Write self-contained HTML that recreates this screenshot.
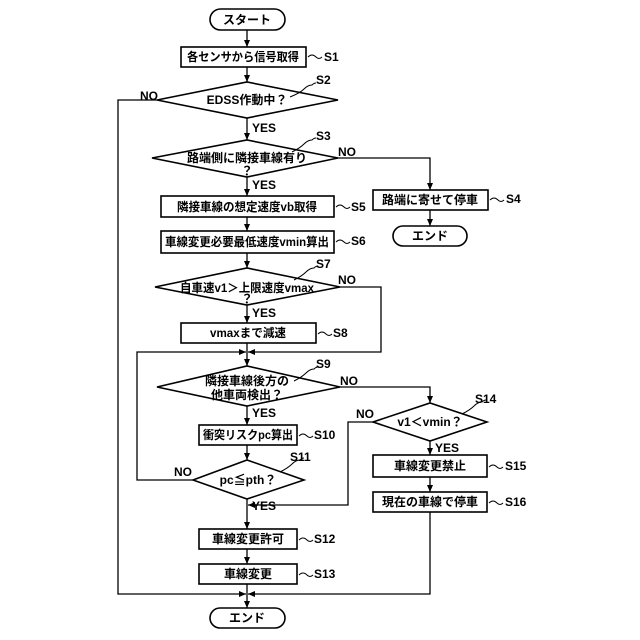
<!DOCTYPE html>
<html><head><meta charset="utf-8"><style>
html,body{margin:0;padding:0;background:#fff;}
svg{display:block}
text{font-family:"Liberation Sans","Noto Sans CJK JP",sans-serif;font-size:12px;fill:#000;font-weight:bold}
.t{text-anchor:middle;dominant-baseline:central}
.l{dominant-baseline:central}
</style></head><body>
<svg width="640" height="640" viewBox="0 0 640 640" xmlns="http://www.w3.org/2000/svg">
<defs><marker id="a" markerWidth="8" markerHeight="8" refX="7" refY="4" orient="auto" markerUnits="userSpaceOnUse"><path d="M0,1 L7,4 L0,7 Z" fill="#000"/></marker></defs>
<g fill="none" stroke="#000" stroke-width="1.6">
<rect x="210" y="9" width="75" height="21" rx="10.5"/>
<rect x="181" y="47" width="125" height="20"/>
<polygon points="157,100 247,82 338,100 247,118"/>
<polygon points="152,158 247,140 338,158 247,177"/>
<rect x="373" y="190" width="115" height="20"/>
<rect x="393" y="226" width="74" height="20" rx="10"/>
<rect x="161" y="196" width="173" height="21"/>
<rect x="161" y="231" width="173" height="22"/>
<polygon points="155,287 247,268 340,287 247,305"/>
<rect x="181" y="323" width="135" height="20"/>
<polygon points="157,387 247,366 340,387 247,406"/>
<rect x="199" y="425" width="98" height="20"/>
<polygon points="193,480 247,460 304,480 247,499"/>
<polygon points="373,422 430,403 487,422 430,441"/>
<rect x="373" y="455" width="114" height="22"/>
<rect x="373" y="492" width="114" height="20"/>
<rect x="199" y="529" width="98" height="20"/>
<rect x="199" y="564" width="98" height="20"/>
<rect x="210" y="608" width="75" height="20" rx="10"/>
</g>
<g fill="none" stroke="#000" stroke-width="1.3" marker-end="url(#a)">
<line x1="247" y1="30" x2="247" y2="47"/>
<line x1="247" y1="67" x2="247" y2="82"/>
<line x1="247" y1="118" x2="247" y2="140"/>
<line x1="247" y1="177" x2="247" y2="196"/>
<line x1="247" y1="217" x2="247" y2="231"/>
<line x1="247" y1="253" x2="247" y2="268"/>
<line x1="247" y1="305" x2="247" y2="323"/>
<line x1="247" y1="343" x2="247" y2="366"/>
<line x1="247" y1="406" x2="247" y2="425"/>
<line x1="247" y1="445" x2="247" y2="460"/>
<line x1="247" y1="499" x2="247" y2="529"/>
<line x1="247" y1="549" x2="247" y2="564"/>
<line x1="247" y1="584" x2="247" y2="608"/>
<polyline points="338,158 430,158 430,190"/>
<line x1="430" y1="210" x2="430" y2="226"/>
<polyline points="340,287 381,287 381,352 248,352"/>
<polyline points="193,480 137,480 137,352 246,352"/>
<polyline points="340,387 430,387 430,403"/>
<line x1="430" y1="441" x2="430" y2="455"/>
<line x1="430" y1="477" x2="430" y2="492"/>
<polyline points="373,422 348,422 348,505 248,505"/>
<polyline points="157,100 118,100 118,594 246,594"/>
<polyline points="430,512 430,594 248,594"/>
</g>
<g fill="none" stroke="#000" stroke-width="1">
<path d="M308,57 q4,-4 8,0 q3,3 6,0"/>
<path d="M290,97 q10,-4 14,-8 q4,-4 8,-4 q2,-2 4,-2"/>
<path d="M292,152 q8,-4 12,-8 q4,-4 8,-4 q2,-2 4,-2"/>
<path d="M490,200 q4,-4 8,0 q3,3 6,0"/>
<path d="M336,207 q4,-4 8,0 q3,3 6,0"/>
<path d="M336,242 q4,-4 8,0 q3,3 6,0"/>
<path d="M294,280 q8,-4 12,-8 q4,-4 8,-4 q2,-2 4,-2"/>
<path d="M318,334 q4,-4 8,0 q3,3 6,0"/>
<path d="M294,381 q8,-4 12,-8 q4,-4 8,-4 q2,-2 4,-2"/>
<path d="M299,436 q4,-4 8,0 q3,3 6,0"/>
<path d="M280,472 q8,-4 12,-8 q4,-4 8,-4 q2,-2 4,-2"/>
<path d="M462,414 q8,-4 12,-8 q4,-4 8,-4 q2,-2 4,-2"/>
<path d="M489,467 q4,-4 8,0 q3,3 6,0"/>
<path d="M489,503 q4,-4 8,0 q3,3 6,0"/>
<path d="M299,540 q4,-4 8,0 q3,3 6,0"/>
<path d="M299,575 q4,-4 8,0 q3,3 6,0"/>
</g>
<text class="t" x="247" y="20">スタート</text>
<text class="t" x="243" y="57" textLength="112" lengthAdjust="spacingAndGlyphs">各センサから信号取得</text>
<text class="t" x="247" y="100">EDSS作動中？</text>
<text class="t" x="247" y="158" textLength="120" lengthAdjust="spacingAndGlyphs">路端側に隣接車線有り</text>
<text class="t" x="247" y="171">？</text>
<text class="t" x="430" y="200" textLength="96" lengthAdjust="spacingAndGlyphs">路端に寄せて停車</text>
<text class="t" x="430" y="236">エンド</text>
<text class="t" x="247" y="207" textLength="140" lengthAdjust="spacingAndGlyphs">隣接車線の想定速度vb取得</text>
<text class="t" x="247" y="242" textLength="164" lengthAdjust="spacingAndGlyphs">車線変更必要最低速度vmin算出</text>
<text class="t" x="247" y="288" textLength="134" lengthAdjust="spacingAndGlyphs">自車速v1＞上限速度vmax</text>
<text class="t" x="247" y="299">？</text>
<text class="t" x="248" y="333" textLength="76" lengthAdjust="spacingAndGlyphs">vmaxまで減速</text>
<text class="t" x="247" y="381">隣接車線後方の</text>
<text class="t" x="247" y="395">他車両検出？</text>
<text class="t" x="248" y="435" textLength="90" lengthAdjust="spacingAndGlyphs">衝突リスクpc算出</text>
<text class="t" x="248" y="480">pc≦pth？</text>
<text class="t" x="430" y="422">v1＜vmin？</text>
<text class="t" x="430" y="466">車線変更禁止</text>
<text class="t" x="430" y="502">現在の車線で停車</text>
<text class="t" x="248" y="539">車線変更許可</text>
<text class="t" x="248" y="574">車線変更</text>
<text class="t" x="247" y="618">エンド</text>
<text class="l" x="324" y="57">S1</text>
<text class="l" x="316" y="80">S2</text>
<text class="l" x="316" y="136">S3</text>
<text class="l" x="506" y="199">S4</text>
<text class="l" x="351" y="207">S5</text>
<text class="l" x="351" y="241">S6</text>
<text class="l" x="316" y="264">S7</text>
<text class="l" x="333" y="333">S8</text>
<text class="l" x="316" y="364">S9</text>
<text class="l" x="314" y="435">S10</text>
<text class="l" x="290" y="457">S11</text>
<text class="l" x="475" y="399">S14</text>
<text class="l" x="505" y="466">S15</text>
<text class="l" x="505" y="502">S16</text>
<text class="l" x="314" y="539">S12</text>
<text class="l" x="314" y="574">S13</text>
<text class="l" x="140" y="96">NO</text>
<text class="l" x="338" y="152">NO</text>
<text class="l" x="338" y="280">NO</text>
<text class="l" x="340" y="381">NO</text>
<text class="l" x="356" y="414">NO</text>
<text class="l" x="174" y="472">NO</text>
<text class="l" x="252" y="128">YES</text>
<text class="l" x="252" y="185">YES</text>
<text class="l" x="252" y="313">YES</text>
<text class="l" x="252" y="413">YES</text>
<text class="l" x="252" y="506">YES</text>
<text class="l" x="435" y="448">YES</text>
</svg>
</body></html>
